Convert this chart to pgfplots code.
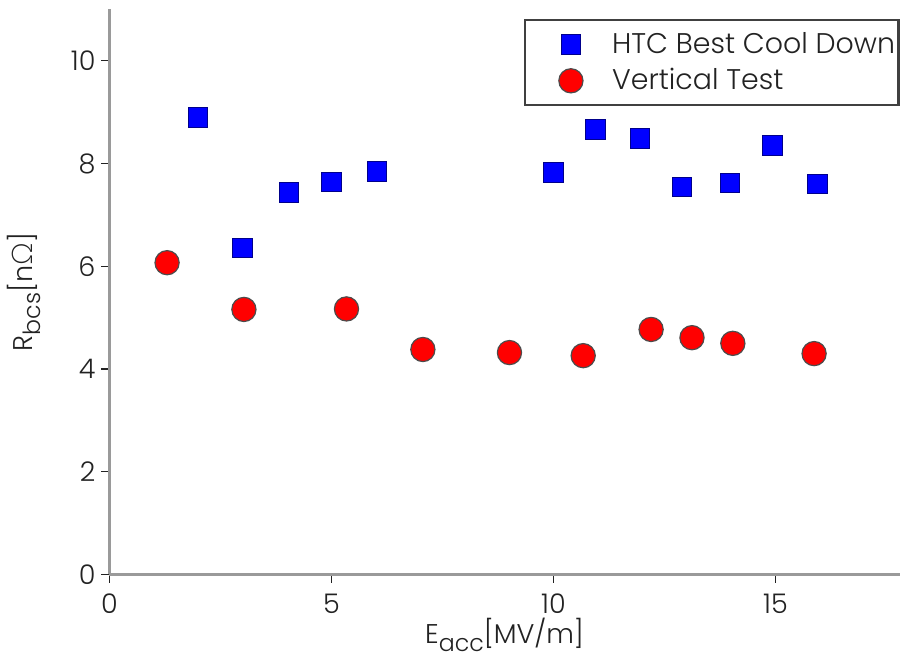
\documentclass[border=0pt]{standalone}
\usepackage{fontspec}
\setmainfont{Poppins}[Scale=0.95, UprightFont=* Light]
\newfontfamily\greekfont{Lato Light}
\usepackage{pgfplots}
\pgfplotsset{compat=1.18}
\definecolor{axgray}{HTML}{9A9A9A}
\definecolor{txt}{HTML}{222222}
\begin{document}
\begin{tikzpicture}
\begin{axis}[
  scale only axis,
  width=333pt, height=238pt,
  xmin=0, xmax=17.8, ymin=0, ymax=11,
  axis lines*=left,
  axis line style={axgray, line width=1pt},
  xtick={0,5,10,15}, ytick={0,2,4,6,8,10},
  tick style={txt, line width=0.5pt},
  tick align=outside,
  major tick length=3.5pt,
  tick label style={font=\fontsize{12}{14}\selectfont, text=txt},
  yticklabel style={xshift=1pt},
  xticklabel style={yshift=-1.5pt},
  /pgf/number format/assume math mode=true,
  xlabel={E\raisebox{-0.55ex}{\fontsize{10.5}{12}\selectfont acc}[MV/m]},
  ylabel={R\raisebox{-0.55ex}{\fontsize{10.5}{12}\selectfont bcs}[n{\greekfont Ω}]},
  label style={font=\fontsize{12}{14}\selectfont, text=txt},
  xlabel style={yshift=5pt},
  ylabel style={yshift=6pt},
  legend style={at={(1,0.983)}, anchor=north east, draw=black!75, line width=1pt,
    font=\fontsize{12.6}{14}\selectfont, text=txt, row sep=1pt,
    inner xsep=0pt, inner ysep=3pt, legend cell align=left,
    nodes={inner xsep=1.5pt}},
  legend image code/.code={\path (0,0) (1.2cm,0); \draw[#1] plot coordinates {(0.66cm,0cm)};},
  clip=false,
]
\addplot[only marks, mark=square*, mark size=4.1pt,
  mark options={fill=blue, draw=blue!55!black, line width=0.4pt}]
  coordinates {
  (2,8.9) (3,6.36) (4.05,7.44) (5,7.64) (6.03,7.85)
  (10,7.83) (10.95,8.66) (11.95,8.49) (12.9,7.54) (13.97,7.62) (14.93,8.35) (15.95,7.6)
  };
\addlegendentry{HTC Best Cool Down}
\addplot[only marks, mark=*, mark size=5.1pt,
  mark options={fill=red, draw=black!70, line width=0.5pt}]
  coordinates {
  (1.3,6.07) (3.03,5.16) (5.34,5.17) (7.06,4.38) (9.01,4.32)
  (10.67,4.26) (12.2,4.77) (13.12,4.61) (14.04,4.50) (15.87,4.30)
  };
\addlegendentry{Vertical Test}
\end{axis}
\path (current axis.north) ++(0,4pt);
\end{tikzpicture}
\end{document}
